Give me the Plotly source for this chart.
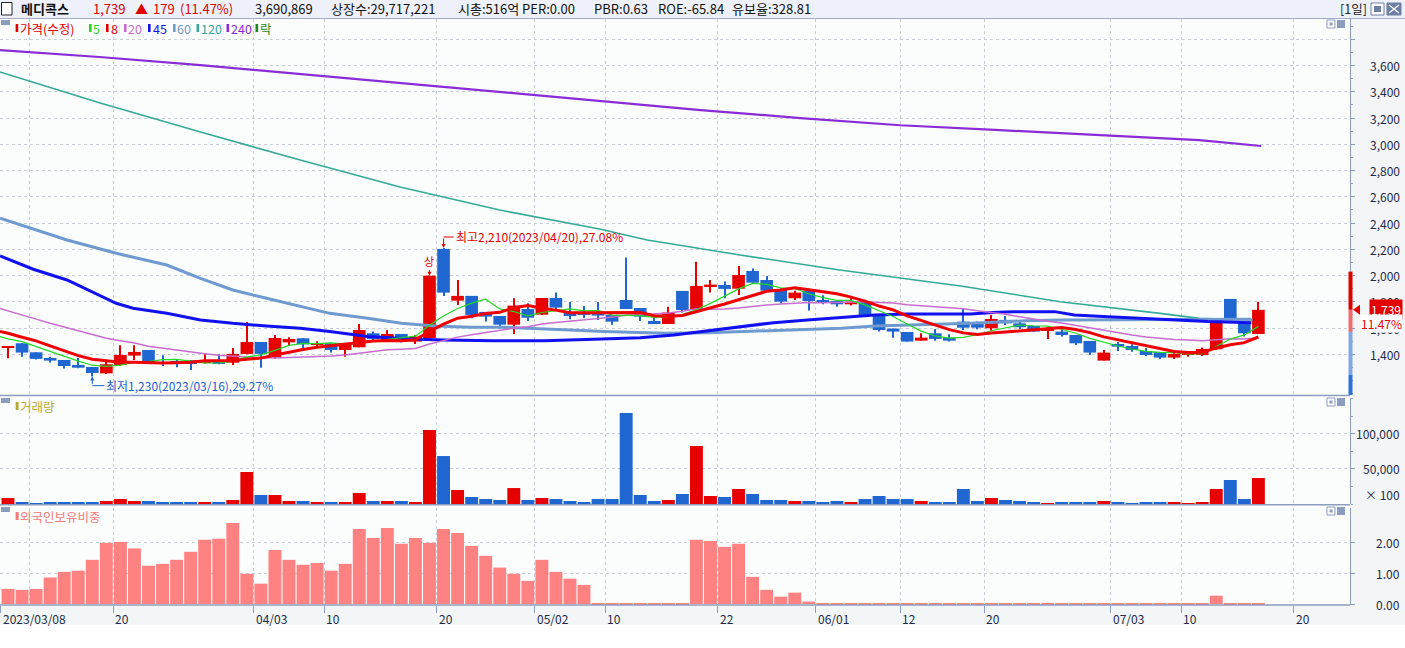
import pandas as pd
import plotly.graph_objects as go

# ---------------- data ----------------
open_ = [1455, 1484, 1415, 1372, 1357, 1319, 1303, 1255, 1319, 1390,
         1433, 1340, 1345, 1354, 1333, 1352, 1336, 1403, 1494, 1377,
         1491, 1522, 1476, 1484, 1433, 1453, 1560, 1497, 1555, 1497,
         1524, 2203, 1809, 1845, 1723, 1692, 1626, 1745, 1702, 1829,
         1718, 1723, 1718, 1700, 1814, 1753, 1654, 1631, 1883, 1738,
         1916, 1928, 1900, 2035, 1966, 1890, 1827, 1885, 1814, 1806,
         1781, 1801, 1707, 1596, 1570, 1504, 1560, 1527, 1649, 1636,
         1598, 1662, 1636, 1616, 1583, 1573, 1547, 1502, 1352, 1479,
         1463, 1425, 1418, 1375, 1400, 1395, 1438, 1822, 1649, 1555]
high = [1462, 1484, 1415, 1382, 1357, 1372, 1303, 1352, 1469, 1469,
        1433, 1392, 1357, 1356, 1408, 1400, 1448, 1646, 1494, 1547,
        1530, 1522, 1499, 1484, 1479, 1631, 1573, 1585, 1555, 1545,
        1999, 2210, 1966, 1845, 1723, 1692, 1827, 1789, 1829, 1870,
        1799, 1768, 1799, 1700, 2137, 1753, 1682, 1763, 1883, 2106,
        1966, 1954, 2073, 2053, 1997, 1903, 1885, 1885, 1850, 1806,
        1827, 1801, 1707, 1596, 1570, 1560, 1593, 1552, 1745, 1649,
        1700, 1692, 1649, 1616, 1606, 1606, 1547, 1502, 1433, 1494,
        1476, 1448, 1418, 1420, 1425, 1451, 1662, 1822, 1649, 1801]
low = [1370, 1382, 1360, 1337, 1291, 1293, 1230, 1250, 1311, 1357,
       1326, 1311, 1301, 1281, 1330, 1325, 1319, 1400, 1298, 1367,
       1471, 1446, 1456, 1413, 1382, 1453, 1502, 1497, 1489, 1479,
       1517, 1845, 1776, 1674, 1649, 1598, 1555, 1654, 1700, 1738,
       1667, 1677, 1662, 1626, 1745, 1654, 1631, 1631, 1718, 1738,
       1870, 1827, 1852, 1946, 1885, 1789, 1814, 1733, 1781, 1763,
       1771, 1692, 1573, 1527, 1497, 1504, 1504, 1497, 1585, 1591,
       1580, 1623, 1593, 1573, 1517, 1535, 1471, 1395, 1352, 1425,
       1420, 1387, 1364, 1364, 1382, 1387, 1433, 1662, 1535, 1555]
close = [1462, 1413, 1365, 1352, 1311, 1298, 1258, 1324, 1395, 1418,
         1331, 1330, 1335, 1326, 1350, 1327, 1403, 1494, 1403, 1524,
         1517, 1476, 1484, 1433, 1479, 1585, 1517, 1555, 1497, 1535,
         1999, 1870, 1845, 1700, 1687, 1626, 1771, 1679, 1829, 1756,
         1692, 1700, 1695, 1649, 1745, 1687, 1631, 1718, 1738, 1921,
         1931, 1898, 2004, 1946, 1885, 1801, 1870, 1806, 1796, 1781,
         1801, 1700, 1585, 1573, 1497, 1527, 1517, 1504, 1603, 1603,
         1669, 1636, 1606, 1573, 1591, 1547, 1484, 1413, 1413, 1458,
         1433, 1395, 1375, 1403, 1413, 1441, 1662, 1662, 1560, 1739]
# volume in units of 100 shares
volume = [8500, 2900, 1400, 2900, 2900, 2900, 2900, 4300, 7100, 4300,
          4300, 2900, 2900, 2900, 2900, 2900, 5700, 45700, 12900, 12900,
          4300, 4300, 2900, 2900, 2900, 15700, 4300, 4300, 4300, 2900,
          105700, 68500, 20000, 10000, 7100, 5700, 22800, 5700, 8600, 7100,
          4300, 2900, 7100, 7100, 130000, 12900, 4300, 5700, 14300, 82800,
          11400, 10000, 21400, 14300, 5700, 5700, 4300, 4300, 2900, 4300,
          2900, 7100, 11400, 7100, 7100, 4300, 2900, 2900, 21400, 4300,
          8600, 5700, 4300, 2900, 1400, 2900, 2900, 2900, 4300, 2900,
          1400, 2900, 2900, 2900, 1400, 2900, 21400, 34300, 7100, 37100]
# foreign ownership ratio (%)
foreign = [0.49, 0.46, 0.49, 0.86, 1.04, 1.08, 1.43, 1.98, 2.01, 1.80,
           1.24, 1.30, 1.43, 1.69, 2.08, 2.11, 2.62, 0.98, 0.66, 1.75,
           1.43, 1.27, 1.33, 1.08, 1.30, 2.43, 2.14, 2.46, 1.95, 2.14,
           1.98, 2.43, 2.30, 1.88, 1.56, 1.18, 0.98, 0.75, 1.43, 1.04,
           0.82, 0.62, 0.03, 0.03, 0.03, 0.03, 0.03, 0.03, 0.03, 2.08,
           2.04, 1.85, 1.95, 0.88, 0.46, 0.24, 0.37, 0.08, 0.03, 0.03,
           0.03, 0.03, 0.03, 0.03, 0.03, 0.03, 0.03, 0.03, 0.03, 0.03,
           0.03, 0.03, 0.03, 0.03, 0.03, 0.03, 0.03, 0.03, 0.03, 0.03,
           0.03, 0.03, 0.03, 0.03, 0.03, 0.03, 0.27, 0.03, 0.03, 0.03]

# moving-average values before the visible window
MA_EDGE_X = -0.57
ma5_lead = [1535, 1517, 1496, 1458, 1420]                     # edge, 0..3
ma8_lead = [1573, 1560, 1530, 1502, 1464, 1425, 1390, 1362]   # edge, 0..6
ma20_lead = [1750, 1733, 1700, 1668, 1636, 1607, 1578, 1550, 1522, 1504,
             1486, 1462, 1447, 1433, 1420, 1405, 1393, 1385, 1378, 1373]  # edge, 0..18

# long moving averages (candle index, price)
ma45_x = [-0.57, 1.8, 4.2, 6.5, 7.7, 8.9, 11.3, 13.7, 16.0, 18.4, 20.8, 22.9, 25.6,
          28.7, 31.0, 34.6, 38.2, 41.7, 44.1, 45.0, 47.4, 49.8, 52.2, 54.5, 56.9,
          59.3, 61.7, 64.0, 68.5, 70.1, 71.5, 74.5, 75.9, 78.3, 80.6, 83.0, 85.4, 88.5]
ma45_v = [2149, 2048, 1966, 1852, 1789, 1751, 1712, 1662, 1636, 1616, 1598, 1573, 1535,
          1517, 1509, 1504, 1504, 1514, 1524, 1527, 1547, 1580, 1611, 1641, 1662,
          1682, 1700, 1707, 1707, 1718, 1725, 1725, 1700, 1687, 1674, 1662, 1649, 1641]
ma60_x = [-0.57, 4.2, 7.7, 11.3, 13.7, 16.0, 18.4, 20.8, 22.9, 25.6, 28.0, 30.4, 32.9,
          35.2, 37.6, 40.0, 42.4, 44.7, 46.8, 49.8, 52.2, 54.5, 56.9, 59.3, 61.7,
          64.0, 66.3, 68.5, 70.1, 72.5, 74.9, 77.2, 79.6, 82.0, 84.3, 86.7, 88.5]
ma60_v = [2438, 2271, 2170, 2080, 1979, 1890, 1827, 1763, 1712, 1674, 1636, 1616, 1606,
          1606, 1598, 1585, 1573, 1565, 1560, 1565, 1573, 1580, 1590, 1598, 1616,
          1621, 1629, 1636, 1644, 1656, 1662, 1662, 1662, 1662, 1664, 1667, 1667]
ma120_x = [-0.57, 6.5, 13.7, 20.8, 27.9, 35.0, 42.1, 45.5, 52.1, 59.2, 67.8, 74.9, 82.0, 84.8, 88.6]
ma120_v = [3551, 3316, 3093, 2880, 2675, 2499, 2355, 2271, 2157, 2042, 1920, 1801, 1712, 1674, 1661]
ma240_x = [-0.57, 6.5, 13.7, 20.8, 27.9, 35.0, 42.1, 49.3, 56.4, 60.6, 63.5, 70.6, 77.7, 84.8, 89.2]
ma240_v = [3718, 3665, 3604, 3535, 3467, 3398, 3330, 3261, 3200, 3165, 3145, 3108, 3070, 3032, 2987]

# date axis
tick_idx = [0, 8, 18, 23, 31, 38, 43, 51, 58, 64, 70, 79, 84, 92]
tick_labels = ["2023/03/08", "20", "04/03", "10", "20", "05/02", "10",
               "22", "06/01", "12", "20", "07/03", "10", "20"]
grid_only_idx = [2]

price_tick_vals = [1400, 1600, 1800, 2000, 2200, 2400, 2600, 2800, 3000, 3200, 3400, 3600]
price_tick_text = ["1,400", "1,600", "1,800", "2,000", "2,200", "2,400", "2,600",
                   "2,800", "3,000", "3,200", "3,400", "3,600"]
vol_tick_vals = [50000, 100000]
vol_tick_text = ["50,000", "100,000"]
fr_tick_vals = [0, 1, 2]
fr_tick_text = ["0.00", "1.00", "2.00"]

limit_up_idx = [30]
last_price, change, change_pct = 1739, 179, 11.47
# coloured range bar on the price axis: (from, to, colour)
axis_band = [(2030, 1739, "#E00000"), (1739, 1571, "#F36A6A"),
             (1571, 1242, "#7FA8E4"), (1242, 1090, "#2F6FD6")]

header_items = [("메디콕스", 21, "#111111", True), ("1,739", 93, "#E00000", False),
                ("▲", 135, "#E00000", False), ("179", 153, "#E00000", False),
                ("(11.47%)", 180, "#E00000", False), ("3,690,869", 255, "#111111", False),
                ("상장수:29,717,221", 331, "#111111", False), ("시총:516억", 458, "#111111", False),
                ("PER:0.00", 522, "#111111", False), ("PBR:0.63", 594, "#111111", False),
                ("ROE:-65.84", 658, "#111111", False), ("유보율:328.81", 732, "#111111", False)]
legend_items = [("가격(수정)", "#E00000", 15.6, 20), ("5", "#22D822", 89, 93),
                ("8", "#E00000", 106, 111), ("20", "#C86CD0", 124, 128),
                ("45", "#1010F0", 148, 153), ("60", "#6E9AD0", 173, 177),
                ("120", "#35AA98", 196.5, 201), ("240", "#8A2BD8", 226.5, 231),
                ("락", "#1A8A1A", 255.5, 260)]

# ---------------- layout constants ----------------
W, H = 1405, 648
FONT = "Noto Sans CJK KR"
PLOT_R = 1350
XR = [-0.57, 95.52]
MAIN_T, MAIN_B = 19, 395
VOL_T, VOL_B = 398, 504
FR_T, FR_B = 508, 605
PR = [1089.9, 3954.7]
VR = [0, 151400]
FRR = [-0.03, 3.106]
UP, DN = "#E60000", "#1F66D1"
GRID = "#C9CED6"
AXC = "#8C9DBD"
TXT = "#1E2A4A"
LBL = 12


def px(x):
    return x / W


def py(y):
    return 1 - y / H


n = len(close)
idx = list(range(n))
cols = [UP if c >= o else DN for o, c in zip(open_, close)]

cs = pd.Series(close, dtype=float)
ma5 = ma5_lead + list(cs.rolling(5).mean()[4:])
ma8 = ma8_lead + list(cs.rolling(8).mean()[7:])
ma20 = ma20_lead + list(cs.rolling(20).mean()[19:])
ma_short_x = [MA_EDGE_X] + idx

fig = go.Figure()

lines = [(ma240_x, ma240_v, "#8A2BD8", 2.2), (ma120_x, ma120_v, "#35AA98", 1.6),
         (ma60_x, ma60_v, "#6E9AD0", 3), (ma45_x, ma45_v, "#1010F0", 3),
         (ma_short_x, ma20, "#C86CD0", 1.5), (ma_short_x, ma5, "#22D822", 1.2),
         (ma_short_x, ma8, "#EE0000", 3)]
for xs, ys, c, w in lines:
    fig.add_trace(go.Scatter(x=xs, y=ys, mode="lines", line=dict(color=c, width=w),
                             xaxis="x", yaxis="y", hoverinfo="skip"))

# candles: wicks and bodies
fig.add_trace(go.Bar(x=idx, y=[h - l for h, l in zip(high, low)], base=low, width=0.075,
                     marker=dict(color=cols, line=dict(width=0)), xaxis="x", yaxis="y"))
fig.add_trace(go.Bar(x=idx, y=[max(abs(c - o), 7) for o, c in zip(open_, close)],
                     base=[min(o, c) for o, c in zip(open_, close)], width=0.9,
                     marker=dict(color=cols, line=dict(width=0)), xaxis="x", yaxis="y"))
# volume
fig.add_trace(go.Bar(x=idx, y=volume, width=0.92, marker=dict(color=cols, line=dict(width=0)),
                     xaxis="x2", yaxis="y2"))
# foreign ownership
fig.add_trace(go.Bar(x=idx, y=foreign, width=0.92, marker=dict(color="#FF8282", line=dict(width=0)),
                     xaxis="x3", yaxis="y3"))

xt = [t - 0.5 for t in tick_idx]
xg = [t - 0.5 for t in grid_only_idx]


def xaxis(anchor, ticks=False):
    d = dict(range=XR, domain=[0, PLOT_R / W], anchor=anchor, showticklabels=False,
             tickmode="array", tickvals=xt, showgrid=True, gridcolor=GRID, griddash="dot",
             gridwidth=1, zeroline=False, showline=False, fixedrange=True,
             minor=dict(tickmode="array", tickvals=xg, showgrid=True, gridcolor=GRID,
                        griddash="dot", ticks=""))
    if ticks:
        d.update(ticks="outside", ticklen=7, tickcolor=AXC, tickwidth=1)
    else:
        d.update(ticks="")
    return d


def yaxis(anchor, dom, rng, grid_vals, minor_dtick=None):
    d = dict(domain=dom, range=rng, side="right", anchor=anchor, tickmode="array",
             tickvals=grid_vals, showticklabels=False, ticks="outside", ticklen=4,
             tickcolor=AXC, showgrid=True, gridcolor=GRID, griddash="dot", gridwidth=1,
             showline=True, linecolor=AXC, linewidth=1, zeroline=False, fixedrange=True)
    if minor_dtick:
        d["minor"] = dict(dtick=minor_dtick, ticks="outside", ticklen=2, tickcolor=AXC,
                          showgrid=False)
    return d


fig.update_layout(
    width=W, height=H, margin=dict(l=0, r=0, t=0, b=0),
    paper_bgcolor="white", plot_bgcolor="#FBFDFD", showlegend=False,
    barmode="overlay", font=dict(family=FONT, size=12, color=TXT),
    xaxis=xaxis("y"), xaxis2=xaxis("y2"), xaxis3=xaxis("y3", ticks=True),
    yaxis=yaxis("x", [py(MAIN_B), py(MAIN_T)], PR, list(range(1400, 4000, 200)), 100),
    yaxis2=yaxis("x2", [py(VOL_B), py(VOL_T)], VR, vol_tick_vals, 25000),
    yaxis3=yaxis("x3", [py(FR_B), py(FR_T)], FRR, fr_tick_vals),
)

shapes = []


def rect(x0, y0, x1, y1, fill, lc=None, lw=0, layer="below"):
    shapes.append(dict(type="rect", xref="paper", yref="paper", x0=px(x0), x1=px(x1),
                       y0=py(y1), y1=py(y0), fillcolor=fill, layer=layer,
                       line=dict(color=lc or fill, width=lw)))


def hline(y, x0, x1, color, width):
    shapes.append(dict(type="line", xref="paper", yref="paper", x0=px(x0), x1=px(x1),
                       y0=py(y), y1=py(y), line=dict(color=color, width=width)))


rect(0, 0, W, 18, "#EFF1FA")
rect(PLOT_R, 18, W, FR_B, "#F3F5F6")
rect(0, FR_B, W, 625, "#F2F6F6")
hline(18.5, 0, W, "#A3ADC6", 1)
hline(395.5, 0, PLOT_R, AXC, 1.5)
hline(504.8, 0, PLOT_R, AXC, 1.5)
hline(605, 0, PLOT_R, AXC, 1.5)
# header checkbox and right-hand icons
rect(1.5, 2.5, 12, 15, "white", "#222222", 1, "above")
rect(1371, 3, 1384, 15, "white", "#6D7FA6", 1, "above")
rect(1374, 6, 1381, 12, "#6D7FA6", layer="above")
rect(1387, 3, 1401, 15, "#6D7FA6", "#6D7FA6", 1, "above")
shapes.append(dict(type="path", xref="paper", yref="paper", layer="above",
                   path=f"M {px(1389)},{py(5)} L {px(1399)},{py(13)} M {px(1399)},{py(5)} L {px(1389)},{py(13)}",
                   line=dict(color="white", width=1.2)))
for top in (20, VOL_T, FR_T - 1):
    rect(1, top, 10, top + 5, "#8C9DBD", layer="above")
    rect(1327, top, 1335, top + 8, "white", "#8C9DBD", 1, "above")
    rect(1329.5, top + 2.5, 1332.5, top + 5.5, "#8C9DBD", layer="above")
    rect(1337, top, 1345, top + 8, "#8C9DBD", layer="above")

# price axis range band
for a, b, c in axis_band:
    shapes.append(dict(type="rect", xref="paper", yref="y", x0=px(1348.5), x1=px(1352.5),
                       y0=b, y1=a, fillcolor=c, line=dict(width=0), layer="above"))
ppu = (MAIN_B - MAIN_T) / (PR[1] - PR[0])
dy = 5 / ppu
shapes.append(dict(type="path", xref="paper", yref="y", fillcolor="#E00000",
                   line=dict(width=0), layer="above",
                   path=f"M {px(1353)},{last_price} L {px(1360)},{last_price + dy} L {px(1360)},{last_price - dy} Z"))

# legend colour ticks
for text, c, bx, tx in legend_items:
    rect(bx, 24, bx + 2.6, 32, c, layer="above")
rect(15.6, 402, 18.6, 410, "#B5A936", layer="above")
rect(15.6, 512, 18.6, 520, "#F57B7B", layer="above")

# highest / lowest markers
imax = max(range(n), key=lambda i: high[i])
imin = min(range(n), key=lambda i: low[i])
RED, BLUE = "#E00000", "#1F5FCC"
shapes.append(dict(type="line", xref="x", yref="y", xsizemode="pixel", ysizemode="pixel",
                   xanchor=imax, yanchor=high[imax], x0=0, x1=10, y0=11, y1=11,
                   line=dict(color=RED, width=1)))
shapes.append(dict(type="line", xref="x", yref="y", xsizemode="pixel", ysizemode="pixel",
                   xanchor=imin, yanchor=low[imin], x0=0, x1=12, y0=-9, y1=-9,
                   line=dict(color=BLUE, width=1)))

anns = []


def ann(text, x, y, color, size=12, xanchor="left", bold=False, **kw):
    t = f"<b>{text}</b>" if bold else text
    d = dict(text=t, x=px(x), y=py(y), xref="paper", yref="paper", showarrow=False,
             font=dict(family=FONT, size=size, color=color), xanchor=xanchor, yanchor="middle")
    d.update(kw)
    anns.append(d)


for text, x, c, b in header_items:
    ann(text, x - 2, 9, c, size=13, bold=b)
ann("[1일]", 1369, 9, "#222222", size=12.5, xanchor="right")
for text, c, bx, tx in legend_items:
    ann(text, tx - 2, 28.5, c, size=12.5)
ann("거래량", 18, 406, "#B5A936", size=12.5)
ann("외국인보유비중", 18, 516, "#F57B7B", size=12.5)

for v, t in zip(price_tick_vals, price_tick_text):
    anns.append(dict(text=t, x=px(1402), y=v, xref="paper", yref="y", showarrow=False,
                     xanchor="right", yanchor="middle", font=dict(family=FONT, size=LBL, color=TXT)))
for v, t in zip(vol_tick_vals, vol_tick_text):
    anns.append(dict(text=t, x=px(1402), y=v, xref="paper", yref="y2", showarrow=False,
                     xanchor="right", yanchor="middle", font=dict(family=FONT, size=LBL, color=TXT)))
ann("× 100", 1402, 494, TXT, size=LBL, xanchor="right")
for v, t in zip(fr_tick_vals, fr_tick_text):
    anns.append(dict(text=t, x=px(1402), y=v, xref="paper", yref="y3", showarrow=False,
                     xanchor="right", yanchor="middle", font=dict(family=FONT, size=LBL, color=TXT)))

for t, lab in zip(xt, tick_labels):
    anns.append(dict(text=lab, x=t, y=py(618), xref="x3", yref="paper", showarrow=False,
                     xanchor="left", yanchor="middle", xshift=0,
                     font=dict(family=FONT, size=LBL, color=TXT)))

# current price tags
anns.append(dict(text=f"{last_price:,}", x=px(1403), y=last_price, xref="paper", yref="y",
                 showarrow=False, xanchor="right", yanchor="middle", bgcolor="#E00000",
                 borderpad=1, font=dict(family=FONT, size=LBL, color="white")))
anns.append(dict(text=f"{change_pct:.2f}%", x=px(1403), y=py(323.5), xref="paper", yref="paper",
                 showarrow=False, xanchor="right", yanchor="middle", bgcolor="white",
                 borderpad=0, font=dict(family=FONT, size=LBL, color="#E00000")))

# limit-up marker
for i in limit_up_idx:
    anns.append(dict(text="상", x=i, y=high[i], xref="x", yref="y", showarrow=True,
                     arrowhead=2, arrowsize=0.8, arrowwidth=1, arrowcolor=RED, ax=0, ay=-15,
                     font=dict(family=FONT, size=11, color=RED)))
# highest / lowest labels
anns.append(dict(text="", x=imax, y=high[imax], xref="x", yref="y", showarrow=True,
                 arrowhead=2, arrowsize=0.8, arrowwidth=1, arrowcolor=RED, ax=0, ay=-11))
anns.append(dict(text=f"최고{high[imax]:,}(2023/04/20),{(high[imax] - last_price) / last_price * 100:.2f}%",
                 x=imax, y=high[imax], xref="x", yref="y", showarrow=False, xanchor="left",
                 yanchor="middle", xshift=10, yshift=11, font=dict(family=FONT, size=12, color=RED)))
anns.append(dict(text="", x=imin, y=low[imin], xref="x", yref="y", showarrow=True,
                 arrowhead=2, arrowsize=0.8, arrowwidth=1, arrowcolor=BLUE, ax=0, ay=9))
anns.append(dict(text=f"최저{low[imin]:,}(2023/03/16),{(last_price - low[imin]) / last_price * 100:.2f}%",
                 x=imin, y=low[imin], xref="x", yref="y", showarrow=False, xanchor="left",
                 yanchor="middle", xshift=12, yshift=-9, font=dict(family=FONT, size=12, color=BLUE)))

fig.update_layout(shapes=shapes, annotations=anns)
fig.write_html("out.html", config={"displayModeBar": False},
               post_script="document.body.style.margin='0';document.body.style.overflow='hidden';")
